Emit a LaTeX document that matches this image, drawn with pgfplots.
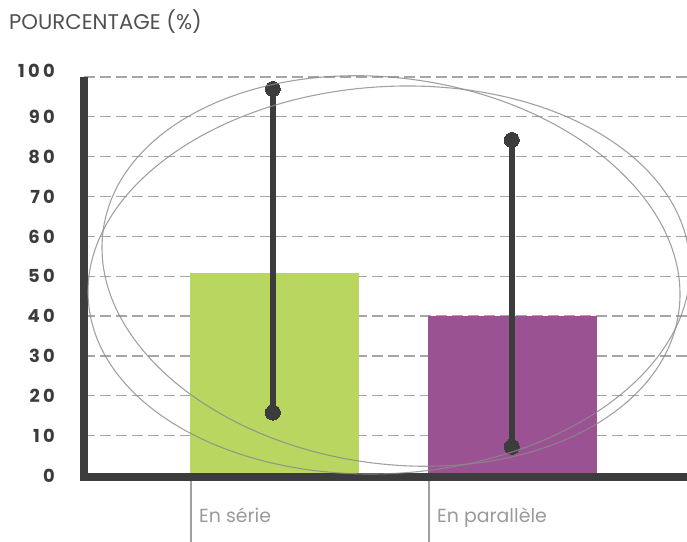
\documentclass[border=0pt]{standalone}
\usepackage{pgfplots}
\pgfplotsset{compat=1.18}
\usepackage{fontspec}
\setmainfont{Poppins}
\newfontfamily\tickfont{Poppins}[LetterSpace=18]

\definecolor{axisdark}{HTML}{3C3C3C}
\definecolor{barGreen}{HTML}{B8D660}
\definecolor{barPurple}{HTML}{9A5292}
\definecolor{gridgray}{HTML}{A6A6A6}
\definecolor{ellgray}{HTML}{8A8A8A}
\definecolor{tickgray}{HTML}{A0A0A0}
\definecolor{labelgray}{HTML}{9A9A9A}
\definecolor{titlegray}{HTML}{505050}

\begin{document}
\begin{tikzpicture}
\useasboundingbox (0,0) rectangle (687bp,542bp);
\clip (0,0) rectangle (687bp,542bp);

\node[anchor=base west, inner sep=0pt, text=titlegray,
      font=\fontsize{21.3}{21.3}\selectfont] at (9bp,512bp) {POURCENTAGE (\%)};

\begin{axis}[
    at={(84bp,66.5bp)}, anchor=south west,
    x=238bp, y=3.985bp,
    xmin=-0.8004, xmax=1.76,
    ymin=0, ymax=100,
    clip=false,
    axis line style={draw=none},
    xtick=\empty,
    ytick={0,10,...,90},
    extra y ticks={100},
    extra y tick style={ymajorgrids=true, yticklabel style={yshift=6bp}},
    ytick style={draw=none},
    ymajorgrids,
    major grid style={color=gridgray, line width=1.2bp, dash pattern=on 10.5bp off 5.5bp},
    /pgf/number format/assume math mode=true,
    yticklabel style={anchor=east, inner sep=0pt, xshift=-29bp, text=axisdark,
                      font=\tickfont\bfseries\fontsize{18}{18}\selectfont},
    ]
    % category ticks below the axis
    \draw[tickgray, line width=1.5bp] (axis cs:-0.351,0) -- (axis cs:-0.351,-18);
    \draw[tickgray, line width=1.5bp] (axis cs:0.649,0) -- (axis cs:0.649,-18);
    \node[anchor=base west, inner sep=0pt, text=labelgray, font=\fontsize{19}{19}\selectfont]
        at ([xshift=8bp, yshift=-46.5bp]axis cs:-0.351,0) {En série};
    \node[anchor=base west, inner sep=0pt, text=labelgray, font=\fontsize{19}{19}\selectfont]
        at ([xshift=8bp, yshift=-46.5bp]axis cs:0.649,0) {En parallèle};

    \addplot[ybar, bar width=169bp, bar shift=0pt, fill=barGreen, draw=none]
        coordinates {(0,50.7)};
    \addplot[ybar, bar width=169bp, bar shift=0pt, fill=barPurple, draw=none]
        coordinates {(1,40.0)};

    % axis lines
    \draw[axisdark, line width=8bp] (axis cs:-0.8004,100) -- (axis cs:-0.8004,-0.5) -- (axis cs:1.76,-0.5);

    % ranges
    \addplot[axisdark, line width=6bp, mark=*, mark size=7.5bp,
             mark options={fill=axisdark, line width=0pt}]
        coordinates {(-0.007,15.8) (-0.007,97.0)};
    \addplot[axisdark, line width=6bp, mark=*, mark size=7.5bp,
             mark options={fill=axisdark, line width=0pt}]
        coordinates {(0.997,7.2) (0.997,84.2)};
\end{axis}

% decorative ellipses
\draw[ellgray, line width=1.1bp, opacity=0.8, rotate around={-8.3:(391bp,271bp)}]
    (391bp,271bp) ellipse [x radius=290.7bp, y radius=192.7bp];
\draw[ellgray, line width=1.1bp, opacity=0.8, rotate around={3.8:(389bp,262bp)}]
    (389bp,262bp) ellipse [x radius=301.4bp, y radius=193.4bp];
\end{tikzpicture}
\end{document}
